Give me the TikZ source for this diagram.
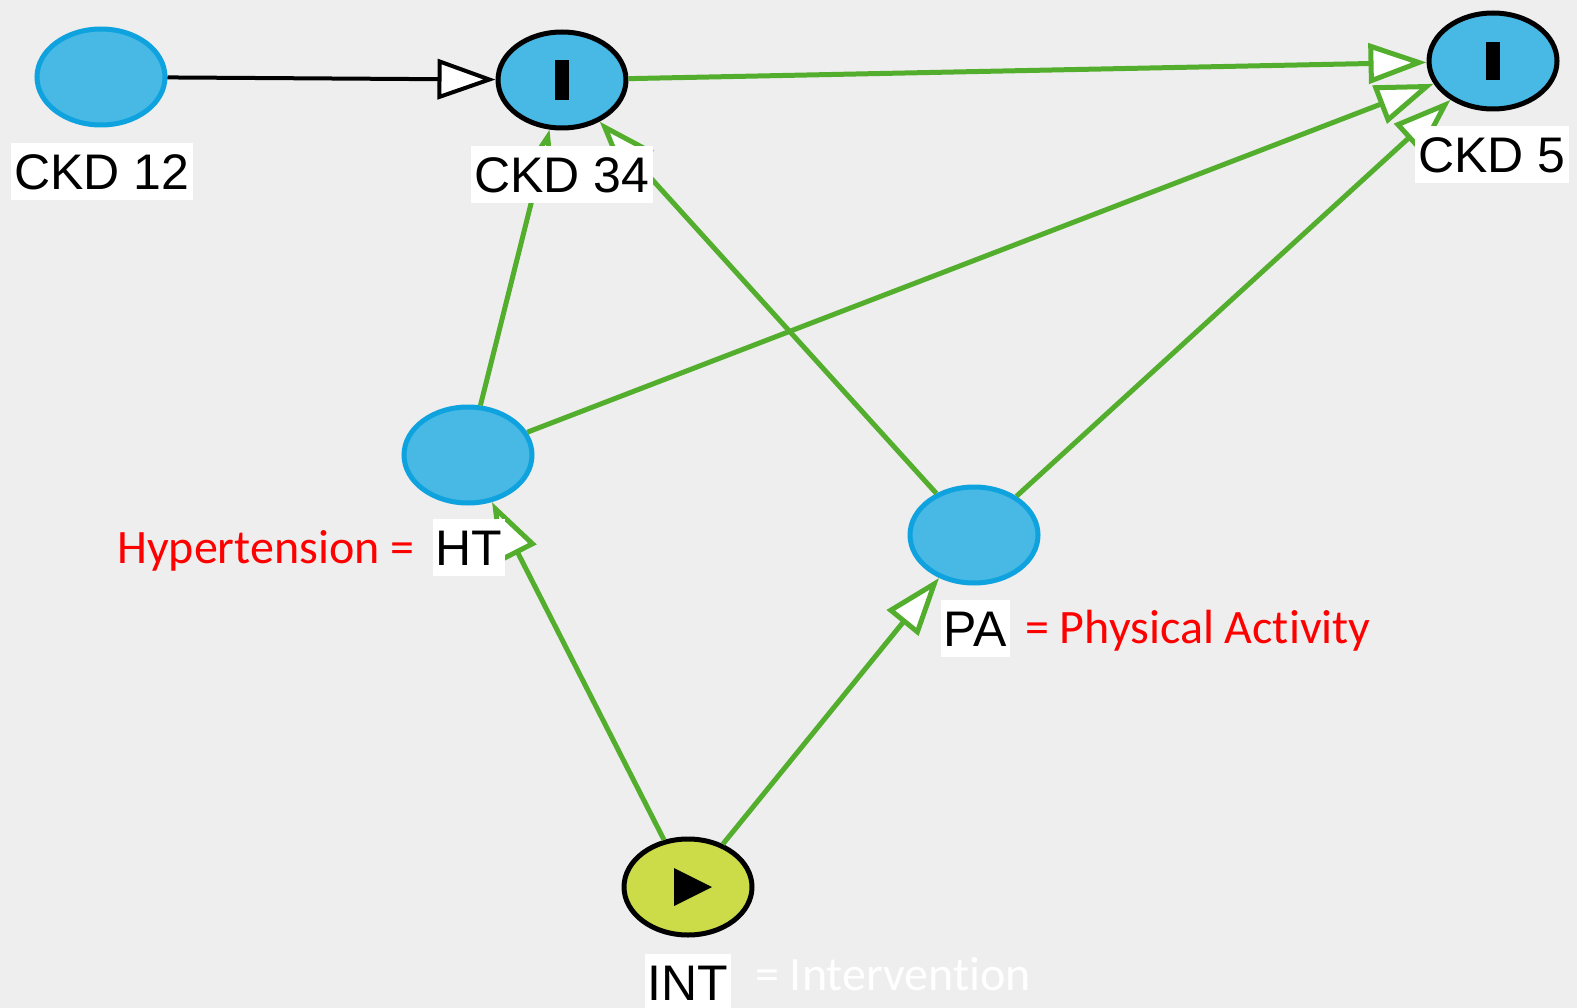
\documentclass[tikz,border=0pt]{standalone}
\usepackage{fontspec}
\setmainfont{Liberation Sans}
\newfontfamily\notefamily[Ligatures={NoCommon}]{Carlito}
\usetikzlibrary{shapes.geometric,arrows.meta}

\definecolor{canvas}{RGB}{238,238,238}
\definecolor{nodeblue}{RGB}{72,184,228}
\definecolor{nodeborder}{RGB}{14,162,222}
\definecolor{exposure}{RGB}{204,219,72}
\definecolor{edgegreen}{RGB}{84,174,46}
\definecolor{notered}{RGB}{255,0,0}

\newcommand{\labelfont}{\fontsize{50}{60}\selectfont}
\newcommand{\notefont}{\notefamily\fontsize{48}{58}\selectfont}

\tikzset{
  varnode/.style={ellipse, minimum width=128pt, minimum height=96pt, inner sep=0pt,
    line width=5pt, fill=nodeblue, draw=nodeborder},
  adjnode/.style={varnode, draw=black},
  expnode/.style={varnode, draw=black, fill=exposure},
  labelbox/.style={fill=white, inner xsep=3pt, inner ysep=10.5pt,
    text height=36pt, text depth=0pt, font=\labelfont},
  causal/.style={draw=edgegreen, line width=5pt,
    -{Triangle[length=58pt, width=40pt, fill=white]}},
  biasing/.style={draw=black, line width=4pt,
    -{Triangle[length=58pt, width=40pt, fill=white]}},
  note/.style={font=\notefont, anchor=base west, inner sep=0pt}
}

\begin{document}
\begin{tikzpicture}[x=1pt, y=-1pt]
  % canvas
  \fill[canvas] (0,0) rectangle (1577,1008);
  \useasboundingbox (0,0) rectangle (1577,1008);
  \clip (0,0) rectangle (1577,1008);

  % variables
  \node[varnode] (ckdA) at (101,77) {};
  \node[adjnode] (ckdB) at (562,80) {};
  \node[adjnode] (ckdC) at (1493,61) {};
  \node[varnode] (ht)   at (468,455) {};
  \node[varnode] (pa)   at (974,535) {};
  \node[expnode] (intv) at (688,887) {};

  % adjusted markers and exposure marker
  \fill[black] (555,60) rectangle (569,100);
  \fill[black] (1486,42) rectangle (1500,80);
  \fill[black] (674,868) -- (712,887) -- (674,906) -- cycle;

  % edges
  \draw[biasing] (ckdA) -- (ckdB);
  \draw[causal] (ckdB) -- (ckdC);
  \draw[causal] (ht) -- (ckdC);
  \draw[causal] (pa) -- (ckdC);
  \draw[causal] (ht) -- (ckdB);
  \draw[causal] (pa) -- (ckdB);
  \draw[causal] (intv) -- (ht);
  \draw[causal] (intv) -- (pa);

  % variable labels
  \node[labelbox] (lckdA) at (102,172) {CKD 12};
  \node[labelbox] (lckdB) at (562,175) {CKD 34};
  \node[labelbox] (lckdC) at (1492,155) {CKD 5};
  \node[labelbox] (lht)   at (469,547) {HT};
  \node[labelbox] (lpa)   at (975,628) {PA};
  \node[labelbox] (lint)  at (688,982) {INT};

  % legend notes
  \node[note, text=notered] (nht) at (117,563) {Hypertension =};
  \node[note, text=notered] (npa) at (1025,643) {= Physical Activity};
  \node[note, text=white]   (nint) at (755,990) {= Intervention};
\end{tikzpicture}
\end{document}
